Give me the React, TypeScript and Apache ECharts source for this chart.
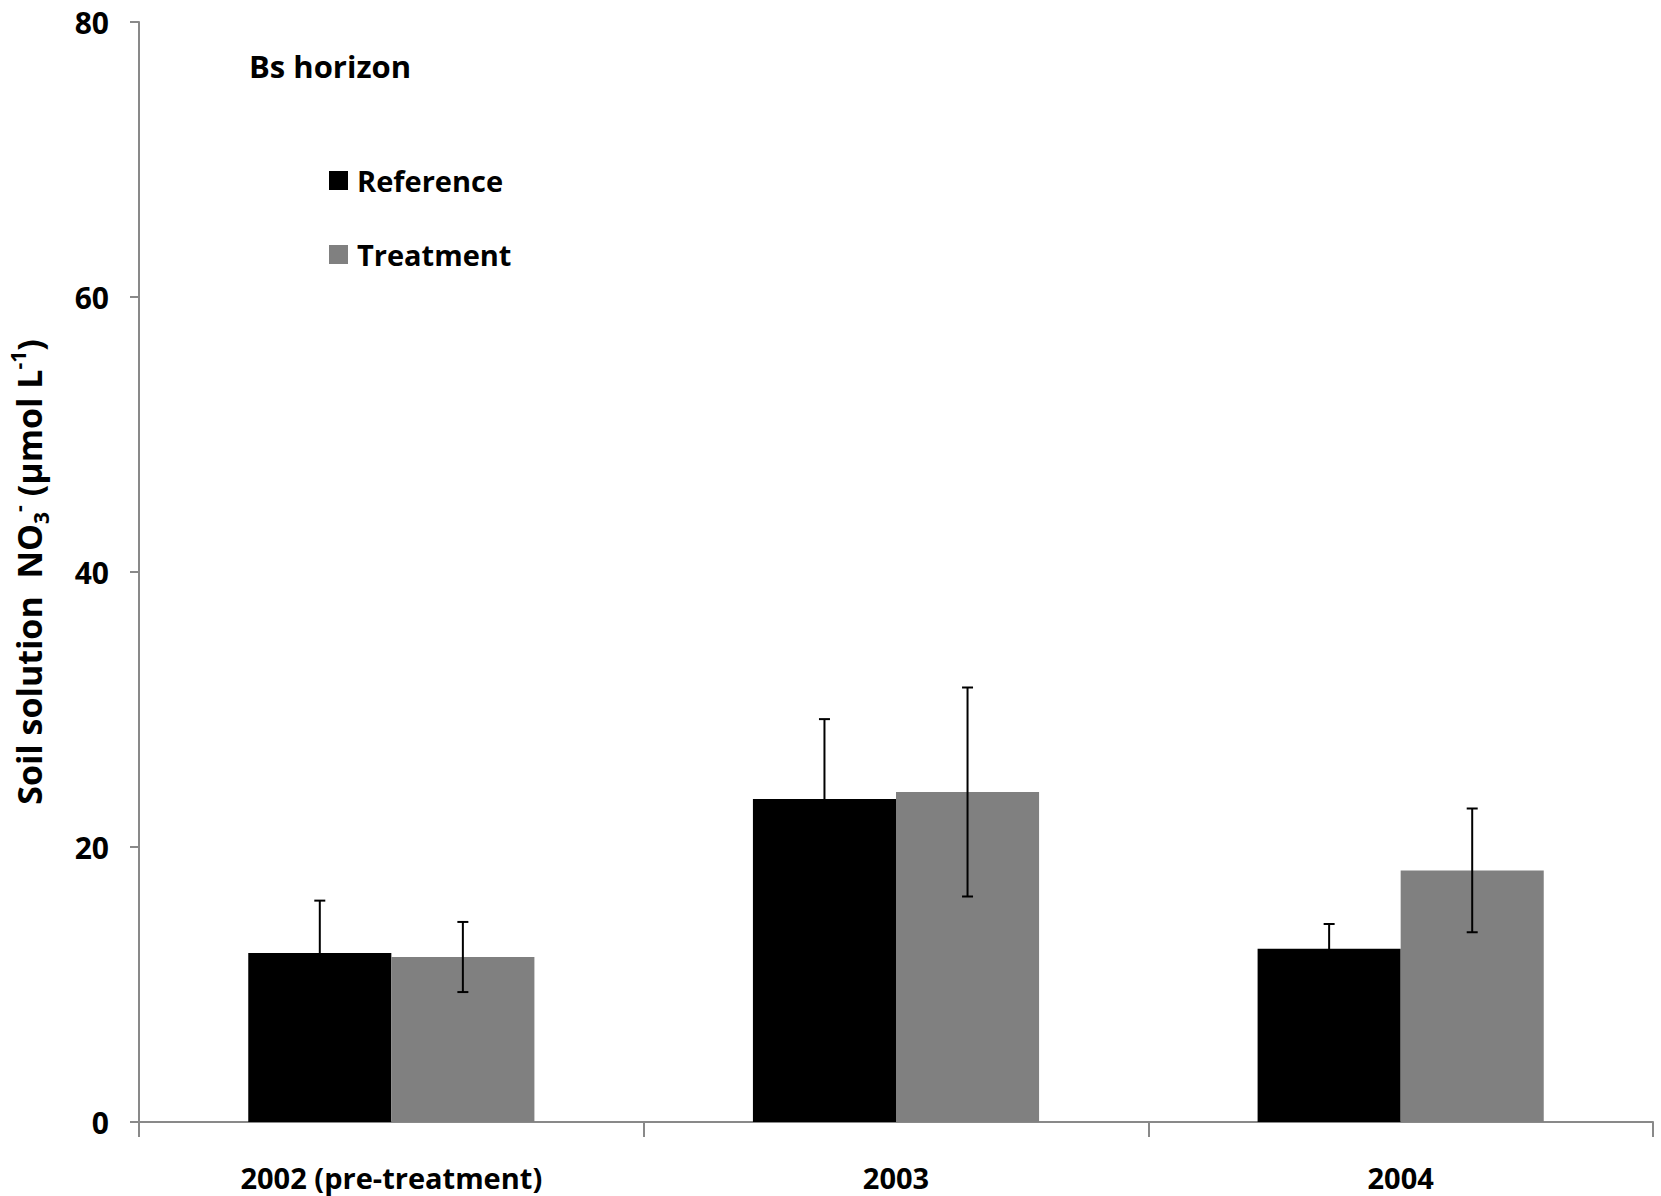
import React, { useEffect, useRef } from "react";
import * as echarts from "echarts";

const categories = ["2002 (pre-treatment)", "2003", "2004"];
const referenceValues = [12.3, 23.5, 12.6];
const referenceErrors = [3.8, 5.8, 1.8];
const treatmentValues = [12.0, 24.0, 18.3];
const treatmentErrors = [2.55, 7.6, 4.5];
const yTicks = { min: 0, max: 80, interval: 20 };

const FONT = "Open Sans";
const CAT_GAP = 0.433;

export default function App() {
  const ref = useRef<HTMLDivElement>(null);
  useEffect(() => {
    document.body.style.margin = "0";
    if (!ref.current) return;
    const chart = echarts.init(ref.current, null, { renderer: "svg" });

    const errData = (vals: number[], errs: number[]) =>
      vals.map((v, i) => [i, v - errs[i], v + errs[i]]);

    const makeErr = (side: number) => (params: any, api: any) => {
      const idx = api.value(0);
      const lo = api.coord([idx, api.value(1)]);
      const hi = api.coord([idx, api.value(2)]);
      const band = api.size([1, 0])[0];
      const bw = (band * (1 - CAT_GAP)) / 2;
      const x = lo[0] + (side * bw) / 2;
      const cap = 5.5;
      const style = { stroke: "#000", lineWidth: 2 };
      return {
        type: "group",
        children: [
          { type: "line", shape: { x1: x, y1: lo[1], x2: x, y2: hi[1] }, style },
          { type: "line", shape: { x1: x - cap, y1: hi[1], x2: x + cap, y2: hi[1] }, style },
          { type: "line", shape: { x1: x - cap, y1: lo[1], x2: x + cap, y2: lo[1] }, style },
        ],
      };
    };

    chart.setOption({
      animation: false,
      backgroundColor: "#fff",
      textStyle: { fontFamily: FONT },
      grid: { left: 139, right: 8, top: 22, bottom: 74, containLabel: false, outerBoundsMode: "none" },
      legend: {
        data: ["Reference", "Treatment"],
        orient: "vertical",
        left: 329,
        top: 166,
        itemWidth: 19,
        itemHeight: 19,
        itemGap: 45,
        padding: 0,
        icon: "rect",
        selectedMode: false,
        textStyle: { fontFamily: FONT, fontSize: 29, fontWeight: "bold", color: "#000", padding: [0, 0, 0, 4] },
      },
      graphic: [
        {
          type: "text",
          x: 249,
          y: 66,
          style: {
            text: "Bs horizon",
            fontFamily: FONT,
            fontSize: 31,
            fontWeight: "bold",
            fill: "#000",
            textVerticalAlign: "middle",
          },
        },
      ],
      xAxis: {
        type: "category",
        data: categories,
        axisLine: { lineStyle: { color: "#898989", width: 2 } },
        axisTick: { show: true, length: 15, lineStyle: { color: "#898989", width: 2 } },
        axisLabel: { fontFamily: FONT, fontSize: 29, fontWeight: "bold", color: "#000", margin: 41 },
        splitLine: { show: false },
      },
      yAxis: {
        type: "value",
        min: yTicks.min,
        max: yTicks.max,
        interval: yTicks.interval,
        axisLine: { show: true, lineStyle: { color: "#898989", width: 2 } },
        axisTick: { show: true, length: 9, lineStyle: { color: "#898989", width: 2 } },
        axisLabel: { fontFamily: FONT, fontSize: 30, fontWeight: "bold", color: "#000", margin: 30 },
        splitLine: { show: false },
        name: "{n|Soil solution  NO}{sub|3}{sup|-}{n| (µmol L}{sup|-1}{n|)}",
        nameLocation: "middle",
        nameRotate: 90,
        nameGap: 88,
        nameTextStyle: {
          rich: {
            n: { fontFamily: FONT, fontSize: 34, fontWeight: "bold", color: "#000", lineHeight: 44, verticalAlign: "middle" },
            sub: { fontFamily: FONT, fontSize: 21, fontWeight: "bold", color: "#000", lineHeight: 44, verticalAlign: "bottom" },
            sup: { fontFamily: FONT, fontSize: 21, fontWeight: "bold", color: "#000", lineHeight: 44, verticalAlign: "top" },
          },
        },
      },
      series: [
        {
          name: "Reference",
          type: "bar",
          data: referenceValues,
          barGap: "0%",
          barCategoryGap: (CAT_GAP * 100).toFixed(1) + "%",
          itemStyle: { color: "#000000" },
        },
        {
          name: "Treatment",
          type: "bar",
          data: treatmentValues,
          barGap: "0%",
          barCategoryGap: (CAT_GAP * 100).toFixed(1) + "%",
          itemStyle: { color: "#808080" },
        },
        {
          name: "refErr",
          type: "custom",
          renderItem: makeErr(-1),
          data: errData(referenceValues, referenceErrors),
          encode: { x: 0, y: [1, 2] },
          z: 10,
        },
        {
          name: "treatErr",
          type: "custom",
          renderItem: makeErr(1),
          data: errData(treatmentValues, treatmentErrors),
          encode: { x: 0, y: [1, 2] },
          z: 10,
        },
      ],
    });
    return () => chart.dispose();
  }, []);
  return <div ref={ref} style={{ width: 1661, height: 1196 }} />;
}
